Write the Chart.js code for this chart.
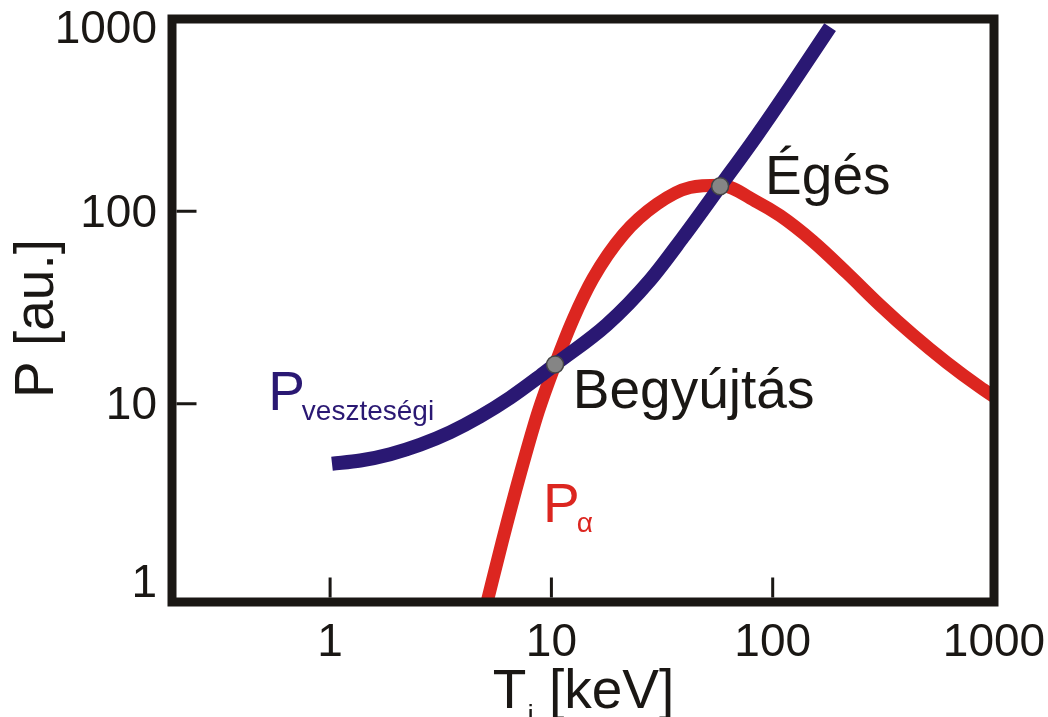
<!DOCTYPE html>
<html>
<head>
<meta charset="utf-8">
<script src="https://cdn.jsdelivr.net/npm/chart.js@4.4.1/dist/chart.umd.min.js"></script>
<style>
  body { margin: 0; background: #ffffff; }
  canvas { display: block; }
</style>
</head>
<body>
<canvas id="powerChart" width="1048" height="717"></canvas>
<script>
// values: T_i [keV] -> P [au.]
const lossT = [1.02, 1.37, 1.87, 2.55, 3.49, 4.76, 6.51, 8.89, 10.39, 17.85, 27.92, 39.37, 57.85, 85.0, 119.8, 181.7];
const lossP = [4.87, 5.06, 5.46, 6.11, 7.10, 8.57, 10.73, 13.92, 15.97, 25.8, 43.9, 73.4, 134.9, 248.8, 442.4, 908];

const alphaT = [5.12, 5.99, 7.22, 8.71, 10.39, 12.53, 15.43, 21.09, 30.03, 42.34, 57.85, 85.0, 108.0, 152.2, 216.9, 305.7, 430.9, 614.0, 865.3, 1000];
const alphaP = [0.93, 1.91, 4.29, 9.04, 15.97, 27.45, 44.88, 75.6, 109.1, 133.0, 136.6, 111.9, 94.9, 69.7, 47.7, 32.5, 22.77, 16.29, 12.16, 10.88];

// crossing points (ignition, burning)
const crossT = [10.39, 57.85];
const crossP = [15.97, 134.9];

const xTicks = [1, 10, 100, 1000];
const yTicks = [1, 10, 100, 1000];

// text labels anchored in data units
const noteText = ['Égés', 'Begyújtás'];
const noteT = [92.4, 12.5];
const noteP = [122.7, 9.53];

const curveLabelMain = ['P', 'P'];
const curveLabelSub = ['veszteségi', 'α'];
const curveLabelT = [0.525, 9.17];
const curveLabelP = [9.3, 2.43];

const FONT = '"Liberation Sans", Arial, sans-serif';
const BLUE = '#2a1873';
const RED = '#dc2620';
const INK = '#1a1714';

function toPoints(xs, ys) {
    return xs.map((x, i) => ({ x: x, y: ys[i] }));
}

// frame, inner ticks, y labels, titles and notes
const framePlugin = {
    id: 'frame',
    afterDraw(chart) {
        const ctx = chart.ctx;
        const area = chart.chartArea;
        const xs = chart.scales.x;
        const ys = chart.scales.y;
        const fw = 9;

        ctx.save();
        ctx.strokeStyle = INK;
        ctx.lineWidth = fw;
        ctx.lineJoin = 'miter';
        ctx.strokeRect(area.left, area.top, area.right - area.left, area.bottom - area.top);

        // ticks pointing inwards
        ctx.lineWidth = 3;
        ctx.beginPath();
        xTicks.forEach(v => {
            const px = xs.getPixelForValue(v);
            if (px > area.right - 5) return;
            ctx.moveTo(px, area.bottom - fw / 2);
            ctx.lineTo(px, area.bottom - fw / 2 - 20);
        });
        yTicks.forEach(v => {
            const py = ys.getPixelForValue(v);
            if (py < area.top + 5 || py > area.bottom - 8) return;
            ctx.moveTo(area.left + fw / 2, py);
            ctx.lineTo(area.left + fw / 2 + 20, py);
        });
        ctx.stroke();

        // y tick labels, kept inside the frame height
        ctx.fillStyle = INK;
        ctx.font = '46px ' + FONT;
        ctx.textAlign = 'right';
        ctx.textBaseline = 'middle';
        yTicks.forEach(v => {
            const py = ys.getPixelForValue(v) + 3;
            const ly = Math.min(Math.max(py, area.top + 11), area.bottom - 18);
            ctx.fillText(String(v), area.left - 15, ly);
        });

        // notes
        ctx.textBaseline = 'alphabetic';
        ctx.textAlign = 'left';
        ctx.font = '55px ' + FONT;
        noteText.forEach((t, i) => {
            ctx.fillText(t, xs.getPixelForValue(noteT[i]), ys.getPixelForValue(noteP[i]));
        });

        // curve labels with subscripts
        const colors = [BLUE, RED];
        curveLabelMain.forEach((t, i) => {
            const px = xs.getPixelForValue(curveLabelT[i]);
            const py = ys.getPixelForValue(curveLabelP[i]);
            ctx.fillStyle = colors[i];
            ctx.font = '55px ' + FONT;
            ctx.fillText(t, px, py);
            const w = ctx.measureText(t).width;
            ctx.font = '28px ' + FONT;
            ctx.fillText(curveLabelSub[i], px + w - 3, py + 10);
        });

        // axis titles
        ctx.fillStyle = INK;
        ctx.font = '55px ' + FONT;
        const cx = (area.left + area.right) / 2;
        const cy = (area.top + area.bottom) / 2;

        ctx.save();
        ctx.translate(53, cy + 8);
        ctx.rotate(-Math.PI / 2);
        ctx.textAlign = 'center';
        ctx.fillText('P [au.]', 0, 0);
        ctx.restore();

        const wT = ctx.measureText('T').width;
        const wRest = ctx.measureText(' [keV]').width;
        ctx.font = '28px ' + FONT;
        const wI = ctx.measureText('i').width;
        const x0 = cx - (wT + wI + wRest) / 2;
        const base = 708;
        ctx.font = '55px ' + FONT;
        ctx.fillText('T', x0, base);
        ctx.font = '28px ' + FONT;
        ctx.fillText('i', x0 + wT + 1, base + 16);
        ctx.font = '55px ' + FONT;
        ctx.fillText(' [keV]', x0 + wT + wI + 1, base);

        ctx.restore();
    }
};

const ctx = document.getElementById('powerChart').getContext('2d');
new Chart(ctx, {
    type: 'line',
    data: {
        datasets: [{
            label: 'pontok',
            data: toPoints(crossT, crossP),
            showLine: false,
            pointRadius: 8.5,
            pointBackgroundColor: '#858585',
            pointBorderColor: '#454545',
            pointBorderWidth: 1.5,
            clip: false,
            order: 0
        }, {
            label: 'P veszteségi',
            data: toPoints(lossT, lossP),
            borderColor: BLUE,
            borderWidth: 14,
            pointRadius: 0,
            cubicInterpolationMode: 'monotone',
            clip: 0,
            order: 1
        }, {
            label: 'P alfa',
            data: toPoints(alphaT, alphaP),
            borderColor: RED,
            borderWidth: 13,
            pointRadius: 0,
            cubicInterpolationMode: 'monotone',
            clip: 0,
            order: 2
        }]
    },
    options: {
        responsive: false,
        animation: false,
        devicePixelRatio: 1,
        layout: {
            padding: { top: 19, right: 54, left: 0, bottom: 0 }
        },
        plugins: {
            legend: { display: false },
            tooltip: { enabled: false }
        },
        scales: {
            x: {
                type: 'logarithmic',
                min: 0.193,
                max: 1000,
                grid: { display: false, drawTicks: false },
                border: { display: false },
                afterBuildTicks: function(scale) {
                    scale.ticks = xTicks.map(v => ({ value: v }));
                },
                afterFit: function(scale) {
                    scale.height = 115;
                    scale.paddingLeft = 0;
                    scale.paddingRight = 0;
                },
                ticks: {
                    autoSkip: false,
                    maxRotation: 0,
                    padding: 14,
                    color: INK,
                    font: { family: FONT, size: 46 },
                    callback: function(value) {
                        return String(value);
                    }
                }
            },
            y: {
                type: 'logarithmic',
                min: 0.93,
                max: 1000,
                grid: { display: false, drawTicks: false },
                border: { display: false },
                afterBuildTicks: function(scale) {
                    scale.ticks = yTicks.map(v => ({ value: v }));
                },
                afterFit: function(scale) {
                    scale.width = 172;
                    scale.paddingTop = 0;
                    scale.paddingBottom = 0;
                },
                ticks: {
                    display: false
                }
            }
        }
    },
    plugins: [framePlugin]
});
</script>
</body>
</html>
